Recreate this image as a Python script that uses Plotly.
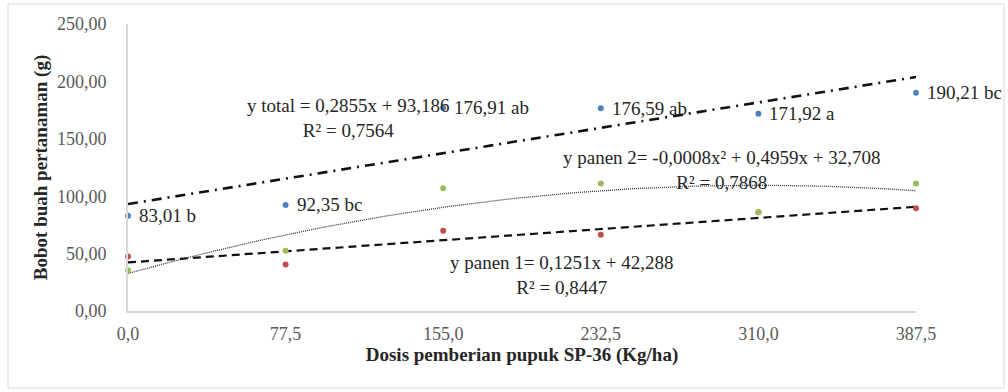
import numpy as np
import plotly.graph_objects as go

# ---- data ----
dosis = [0.0, 77.5, 155.0, 232.5, 310.0, 387.5]
x_ticktext = ["0,0", "77,5", "155,0", "232,5", "310,0", "387,5"]
y_tickvals = [0, 50, 100, 150, 200, 250]
y_ticktext = ["0,00", "50,00", "100,00", "150,00", "200,00", "250,00"]

total = [83.01, 92.35, 176.91, 176.59, 171.92, 190.21]
total_labels = ["83,01 b", "92,35 bc", "176,91 ab", "176,59 ab", "171,92 a", "190,21 bc"]
panen1 = [47.5, 40.5, 70.0, 66.5, 86.0, 89.5]
panen2 = [35.5, 52.5, 107.0, 111.0, 86.0, 111.0]

# trendline coefficients (highest power first), as printed on the chart
coef_total = [0.2855, 93.186]
coef_panen1 = [0.1251, 42.288]
coef_panen2 = [-0.0008, 0.4959, 32.708]

eq_total = "y total = 0,2855x + 93,186<br>R² = 0,7564"
eq_panen2 = "y panen 2= -0,0008x² + 0,4959x + 32,708<br>R² = 0,7868"
eq_panen1 = "y panen 1= 0,1251x + 42,288<br>R² = 0,8447"

FONT = "Liberation Serif"
BLUE, RED, GREEN = "#4f81bd", "#c0504d", "#9bbb59"
TXT = "#262626"

xs = np.linspace(dosis[0], dosis[-1], 200)

fig = go.Figure()

# trendlines
fig.add_trace(go.Scatter(x=xs, y=np.polyval(coef_panen2, xs), mode="lines",
                         line=dict(color="#333333", width=1.3, dash="1px,1px"),
                         hoverinfo="skip", cliponaxis=False))
fig.add_trace(go.Scatter(x=xs, y=np.polyval(coef_panen1, xs), mode="lines",
                         line=dict(color="#111111", width=2.2, dash="8px,5px"),
                         hoverinfo="skip", cliponaxis=False))
fig.add_trace(go.Scatter(x=xs, y=np.polyval(coef_total, xs), mode="lines",
                         line=dict(color="#111111", width=2.6, dash="10px,6px,2px,6px"),
                         hoverinfo="skip", cliponaxis=False))

# points
fig.add_trace(go.Scatter(x=dosis, y=total, mode="markers", name="total",
                         marker=dict(color=BLUE, size=6), cliponaxis=False))
fig.add_trace(go.Scatter(x=dosis, y=panen1, mode="markers", name="panen 1",
                         marker=dict(color=RED, size=6), cliponaxis=False))
fig.add_trace(go.Scatter(x=dosis, y=panen2, mode="markers", name="panen 2",
                         marker=dict(color=GREEN, size=6), cliponaxis=False))

annotations = []
for xv, yv, lab in zip(dosis, total, total_labels):
    annotations.append(dict(x=xv, y=yv, xref="x", yref="y", text=lab,
                            showarrow=False, xanchor="left", yanchor="middle",
                            xshift=9, font=dict(family=FONT, size=19, color=TXT)))

annotations += [
    dict(x=108, y=168, xref="x", yref="y", text=eq_total, showarrow=False,
         xanchor="center", yanchor="middle", align="center",
         font=dict(family=FONT, size=19, color=TXT)),
    dict(x=292, y=123, xref="x", yref="y", text=eq_panen2, showarrow=False,
         xanchor="center", yanchor="middle", align="center",
         font=dict(family=FONT, size=19, color=TXT)),
    dict(x=213.5, y=31, xref="x", yref="y", text=eq_panen1, showarrow=False,
         xanchor="center", yanchor="middle", align="center",
         font=dict(family=FONT, size=19, color=TXT)),
]

fig.update_layout(
    width=1008, height=392,
    margin=dict(l=128, r=92, t=24, b=81),
    paper_bgcolor="white", plot_bgcolor="white",
    showlegend=False,
    font=dict(family=FONT, size=18, color="#595959"),
    annotations=annotations,
    shapes=[dict(type="rect", xref="paper", yref="paper",
                 x0=(8 - 128) / 788, x1=(1004 - 128) / 788,
                 y0=(311 - 388) / 287, y1=(311 - 4) / 287,
                 line=dict(color="#d9d9d9", width=1), fillcolor="rgba(0,0,0,0)",
                 layer="below")],
    xaxis=dict(range=[0, 387.5], tickvals=dosis, ticktext=x_ticktext,
               showgrid=False, zeroline=False, showline=True,
               linecolor="#d9d9d9", linewidth=2, ticks="", ticklabelstandoff=5,
               tickfont=dict(family=FONT, size=18, color="#595959"),
               title=dict(text="<b>Dosis pemberian pupuk SP-36 (Kg/ha)</b>",
                          font=dict(family=FONT, size=19, color=TXT),
                          standoff=4)),
    yaxis=dict(range=[0, 250], tickvals=y_tickvals, ticktext=y_ticktext,
               showgrid=False, zeroline=False, showline=True,
               linecolor="#d9d9d9", linewidth=2, ticks="", ticklabelstandoff=16,
               tickfont=dict(family=FONT, size=18, color="#595959"),
               title=dict(text="<b>Bobot buah pertanaman (g)</b>",
                          font=dict(family=FONT, size=19, color=TXT),
                          standoff=4)),
)

fig.write_html("out.html")
